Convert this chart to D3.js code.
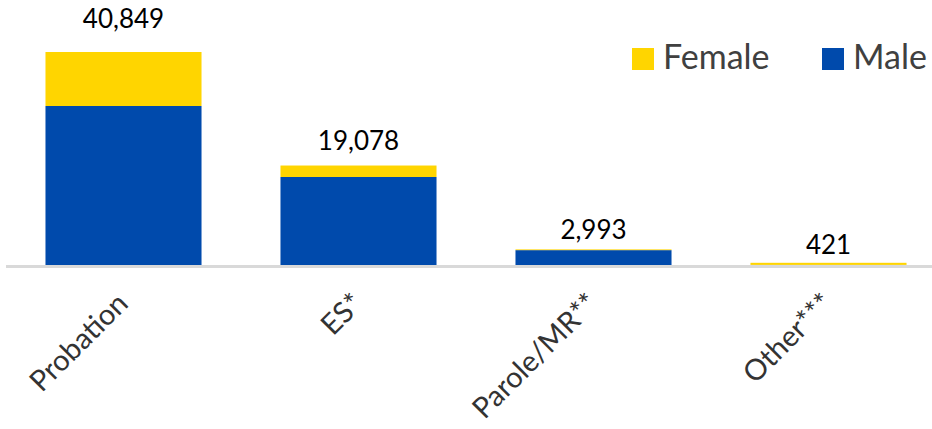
<!DOCTYPE html>
<html>
<head>
<meta charset="utf-8">
<script src="https://cdn.jsdelivr.net/npm/d3@7"></script>
<style>
  body { margin: 0; background: #fff; }
  text { font-family: "Source Sans Pro", Lato, "Open Sans", sans-serif; }
</style>
</head>
<body>
<div id="chart"></div>
<script>
// chart data
var categories = ["Probation", "ES*", "Parole/MR**", "Other***"];
var male = [30494, 16877, 2850, 20];
var female = [10355, 2201, 143, 401];
var totals = [40849, 19078, 2993, 421];
var seriesNames = ["Female", "Male"];
var colors = {Male: "#004AAC", Female: "#FFD500"};

var width = 932, height = 429;
var baseY = 265, topY = 52;

var svg = d3.select("#chart").append("svg")
  .attr("width", width)
  .attr("height", height);

var x = d3.scaleBand()
  .domain(categories)
  .range([6, 946])
  .paddingInner(0.336)
  .paddingOuter(0.168);

var y = d3.scaleLinear()
  .domain([0, d3.max(totals)])
  .range([baseY, topY]);

var rows = categories.map(function (c, i) {
  return {cat: c, Male: male[i], Female: female[i], total: totals[i]};
});

var stack = d3.stack().keys(["Male", "Female"]);
var layers = stack(rows);

svg.selectAll(".layer")
  .data(layers)
  .enter().append("g")
  .attr("class", "layer")
  .attr("fill", function (d) { return colors[d.key]; })
  .selectAll("rect")
  .data(function (d) { return d; })
  .enter().append("rect")
  .attr("x", function (d) { return x(d.data.cat); })
  .attr("width", x.bandwidth())
  .attr("y", function (d) { return y(d[1]); })
  .attr("height", function (d) { return y(d[0]) - y(d[1]); });

// baseline
svg.append("line")
  .attr("x1", 6).attr("x2", width)
  .attr("y1", baseY + 1.5).attr("y2", baseY + 1.5)
  .attr("stroke", "#D9D9D9")
  .attr("stroke-width", 3);

// totals above bars (label gap grows a little with bar height, like the original)
svg.selectAll(".total")
  .data(rows)
  .enter().append("text")
  .attr("class", "total")
  .attr("x", function (d) { return x(d.cat) + x.bandwidth() / 2; })
  .attr("y", function (d) { return y(d.total) - 9 - (baseY - y(d.total)) * 0.07; })
  .attr("text-anchor", "middle")
  .attr("font-size", 26)
  .attr("fill", "#000")
  .text(function (d) { return d3.format(",")(d.total); });

// category labels
svg.selectAll(".cat")
  .data(categories)
  .enter().append("text")
  .attr("class", "cat")
  .attr("transform", function (d) {
    return "translate(" + (x(d) + x.bandwidth() / 2 - 1) + "," + (baseY + 33) + ") rotate(-45)";
  })
  .attr("text-anchor", "end")
  .attr("dy", "0.35em")
  .attr("font-size", 29)
  .attr("fill", "#333")
  .text(function (d) { return d; });

// legend
var legendX = [632, 822];
var legend = svg.selectAll(".legend")
  .data(seriesNames)
  .enter().append("g")
  .attr("class", "legend")
  .attr("transform", function (d, i) { return "translate(" + legendX[i] + ",48)"; });

legend.append("rect")
  .attr("width", 22).attr("height", 22)
  .attr("fill", function (d) { return colors[d]; });

legend.append("text")
  .attr("x", 31)
  .attr("y", 21)
  .attr("font-size", 34)
  .attr("fill", "#404040")
  .text(function (d) { return d; });
</script>
</body>
</html>
